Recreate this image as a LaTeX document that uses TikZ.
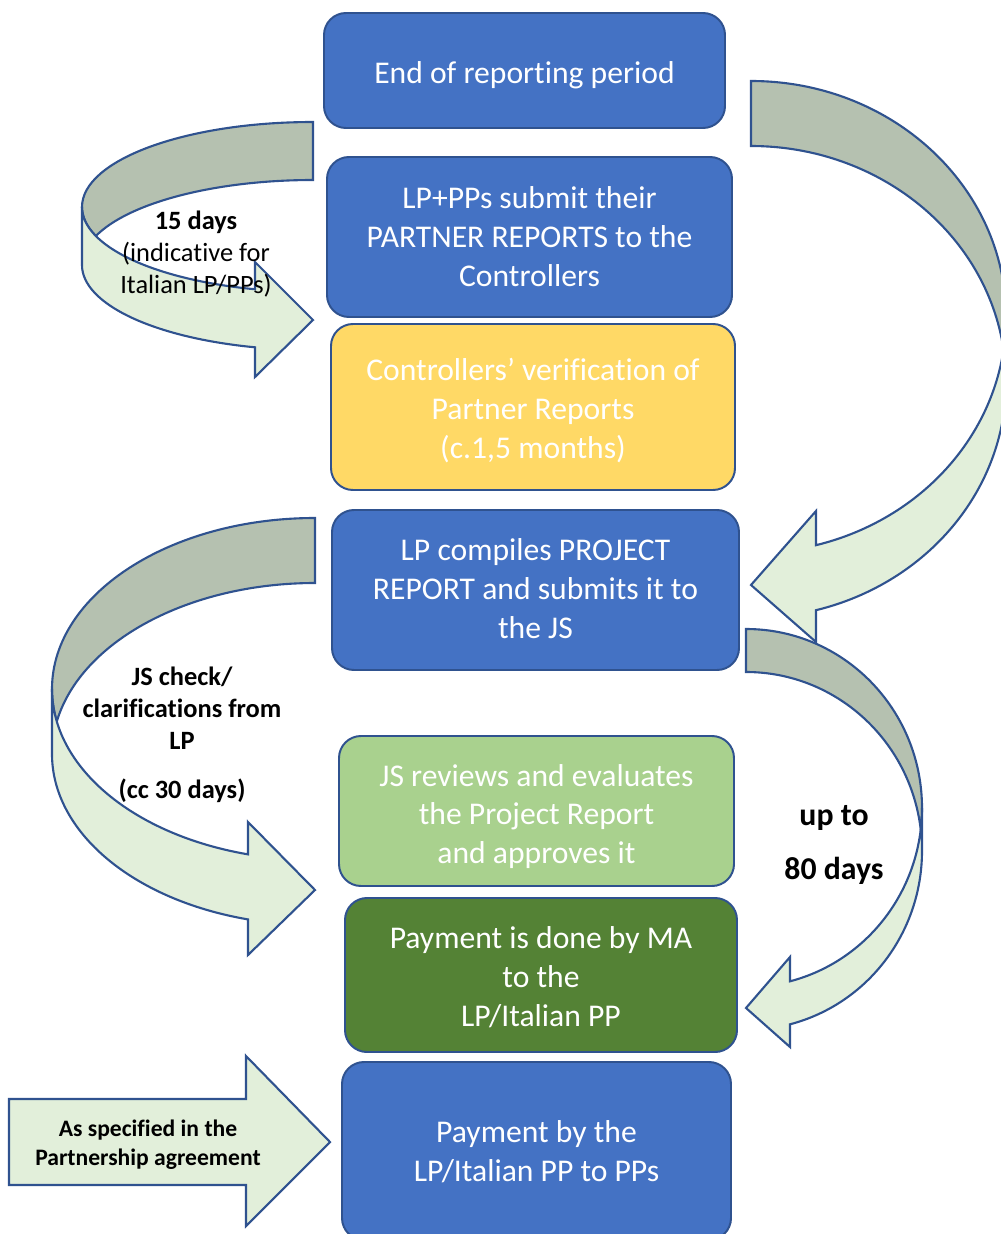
\documentclass[tikz,border=0pt]{standalone}
\usepackage{fontspec}
\setmainfont{Carlito}[Ligatures={NoCommon,NoContextual}, RawFeature=-liga, RawFeature=-clig]
\definecolor{edgeblue}{RGB}{47,82,143}
\definecolor{boxblue}{RGB}{68,114,196}
\definecolor{boxyellow}{RGB}{255,217,102}
\definecolor{boxlight}{RGB}{169,209,142}
\definecolor{boxdark}{RGB}{84,130,53}
\definecolor{bandgray}{RGB}{181,193,176}
\definecolor{bandpale}{RGB}{226,239,218}
\begin{document}
\begin{tikzpicture}[x=0.25mm,y=0.25mm,yscale=-1,
  stepbox/.style={draw=edgeblue, line width=1.4pt, rounded corners=5.5mm, inner sep=0pt},
  steptext/.style={align=center, inner sep=0pt, text=white, font=\fontsize{22.5}{27.7}\selectfont},
  band/.style={draw=edgeblue, line width=1.5pt, line join=miter},
  backband/.style={band, fill=bandgray},
  frontband/.style={band, fill=bandpale},
  lbl/.style={align=center, inner sep=0pt, text=black, font=\fontsize{18.8}{22.8}\selectfont}
]
\useasboundingbox (0,0) rectangle (1001,1234);
\clip (0,0) rectangle (1001,1234);

% process steps: boxes
\node[stepbox, fill=boxblue, minimum width=100.25mm, minimum height=28.75mm] (endrep) at (524.5,70.5) {};
\node[stepbox, fill=boxblue, minimum width=101.25mm, minimum height=40mm] (submit) at (529.5,237) {};
\node[stepbox, fill=boxyellow, minimum width=101mm, minimum height=41.5mm] (verify) at (533,407) {};
\node[stepbox, fill=boxblue, minimum width=101.75mm, minimum height=40mm] (compile) at (535.5,590) {};
\node[stepbox, fill=boxlight, minimum width=98.75mm, minimum height=37.5mm] (review) at (536.5,811) {};
\node[stepbox, fill=boxdark, minimum width=98mm, minimum height=38.5mm] (payma) at (541,975) {};
\node[stepbox, fill=boxblue, minimum width=97.25mm, minimum height=44.5mm] (paypp) at (536.5,1151) {};

% process steps: texts
\node[steptext] (endrep-t) at (524.5,75.5) {End of reporting period};
\node[steptext] (submit-t) at (529.5,237) {LP+PPs submit their\\PARTNER REPORTS to the\\Controllers};
\node[steptext] (verify-t) at (533,410.5) {Controllers’ verification of\\Partner Reports\\(c.1,5 months)};
\node[steptext] (compile-t) at (535.5,589) {LP compiles PROJECT\\REPORT and submits it to\\the JS};
\node[steptext] (review-t) at (536.5,816.5) {JS reviews and evaluates\\the Project Report\\and approves it};
\node[steptext] (payma-t) at (541,977) {Payment is done by MA\\to the\\LP/Italian PP};
\node[steptext] (paypp-t) at (536.5,1152) {Payment by the\\LP/Italian PP to PPs};

% curved arrow: 15 days
\draw[backband] (82,207) arc[start angle=180,end angle=270,x radius=231,y radius=85] -- (313,180)
  arc[start angle=270,end angle=199.95,x radius=231,y radius=85]
  arc[start angle=160.05,end angle=180,x radius=231,y radius=85] -- cycle;
\draw[frontband] (82,207) arc[start angle=180,end angle=104.54,x radius=231,y radius=85]
  -- (255,262) -- (313,320) -- (255,377) -- (255,347.3)
  arc[start angle=104.54,end angle=180,x radius=231,y radius=85] -- cycle;

% curved arrow: JS check
\draw[backband] (52,689) arc[start angle=180,end angle=270,x radius=263,y radius=171] -- (315,583)
  arc[start angle=270,end angle=190.96,x radius=263,y radius=171]
  arc[start angle=169.04,end angle=180,x radius=263,y radius=171] -- cycle;
\draw[frontband] (52,689) arc[start angle=180,end angle=104.76,x radius=263,y radius=171]
  -- (248,822) -- (315,890) -- (248,955) -- (248,919.4)
  arc[start angle=104.76,end angle=180,x radius=263,y radius=171] -- cycle;

% curved arrow: controllers' period
\draw[backband] (1006,317) arc[start angle=360,end angle=270,x radius=255,y radius=236] -- (751,146)
  arc[start angle=270,end angle=352.08,x radius=255,y radius=236]
  arc[start angle=7.92,end angle=0,x radius=255,y radius=236] -- cycle;
\draw[frontband] (1006,317) arc[start angle=0,end angle=75.23,x radius=255,y radius=236]
  -- (816,511) -- (751,585) -- (816,642) -- (816,610.2)
  arc[start angle=75.23,end angle=0,x radius=255,y radius=236] -- cycle;

% curved arrow: up to 80 days
\draw[backband] (922,808) arc[start angle=360,end angle=270,x radius=176,y radius=179] -- (746,672)
  arc[start angle=270,end angle=353.10,x radius=176,y radius=179]
  arc[start angle=6.90,end angle=0,x radius=176,y radius=179] -- cycle;
\draw[frontband] (922,808) arc[start angle=0,end angle=75.52,x radius=176,y radius=179]
  -- (790,957) -- (746,1008) -- (790,1047) -- (790,1024.3)
  arc[start angle=75.52,end angle=0,x radius=176,y radius=179] -- cycle;

% straight arrow: partnership agreement
\draw[frontband] (9,1099) -- (246,1099) -- (246,1056) -- (330,1142) -- (246,1226) -- (246,1185) -- (9,1185) -- cycle;

% labels
\node[lbl] (days15) at (196,254) {\textbf{15 days}\\(indicative for\\Italian LP/PPs)};
\node[lbl, font=\bfseries\fontsize{18.8}{22.8}\selectfont] (jscheck) at (182,735) {JS check/\\clarifications from\\LP\\[12pt](cc 30 days)};
\node[lbl, font=\bfseries\fontsize{22.6}{38.4}\selectfont] (days80) at (834,845) {up to\\80 days};
\node[lbl, font=\bfseries\fontsize{16.8}{20.6}\selectfont] (agree) at (148,1144.5) {As specified in the\\Partnership agreement};
\end{tikzpicture}
\end{document}
